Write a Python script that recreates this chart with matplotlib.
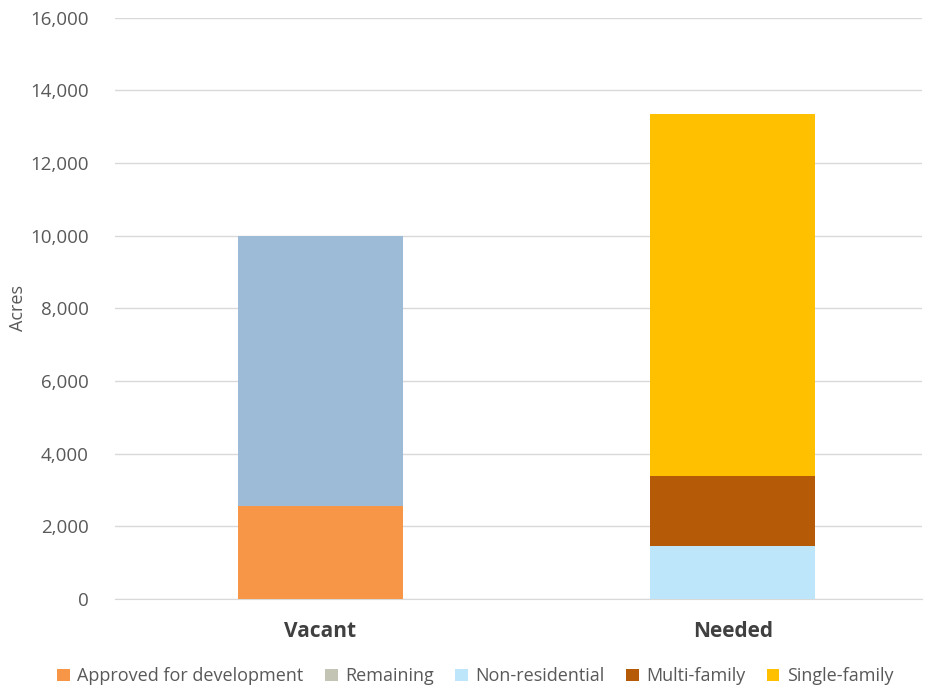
import matplotlib
matplotlib.use("Agg")
import matplotlib.pyplot as plt
from matplotlib.patches import Patch
from matplotlib.ticker import FuncFormatter

categories = ["Vacant", "Needed"]
series_names = ["Approved for development", "Remaining", "Non-residential", "Multi-family", "Single-family"]
approved = [2560, 0]
remaining = [7440, 0]
non_residential = [0, 1460]
multi_family = [0, 1930]
single_family = [0, 9970]
yticks = list(range(0, 16001, 2000))

bar_colors = ["#F79646", "#9DBAD6", "#BDE6FA", "#B55A06", "#FFC000"]
legend_colors = ["#F79646", "#C4C4B4", "#BDE6FA", "#B55A06", "#FFC000"]

plt.rcParams['font.family'] = ['Open Sans', 'DejaVu Sans']
fig = plt.figure(figsize=(9.28, 6.86), dpi=100)
ax = fig.add_axes([0.124, 0.127, 0.87, 0.847])

x = list(range(len(categories)))
bottom = [0, 0]
for vals, c in zip([approved, remaining, non_residential, multi_family, single_family], bar_colors):
    ax.bar(x, vals, bottom=bottom, width=0.4, color=c, zorder=3)
    bottom = [b + v for b, v in zip(bottom, vals)]

ax.set_ylim(0, 16000)
ax.set_xlim(-0.497, 1.46)
ax.set_yticks(yticks)
ax.yaxis.set_major_formatter(FuncFormatter(lambda v, p: f"{int(v):,}"))
ax.set_xticks(x)
ax.set_xticklabels(categories, fontsize=15, fontweight='bold', color='#404040')
ax.tick_params(axis='y', length=0, labelsize=13.5, labelcolor='#595959', pad=19)
ax.tick_params(axis='x', length=0, pad=16)
ax.grid(axis='y', color='#D9D9D9', linewidth=1, zorder=0)
for s in ['top', 'right', 'left']:
    ax.spines[s].set_visible(False)
ax.spines['bottom'].set_color('#D9D9D9')
ax.set_ylabel("Acres", fontsize=13, color='#595959', labelpad=2)

handles = [Patch(facecolor=c, label=n) for c, n in zip(legend_colors, series_names)]
fig.legend(handles=handles, loc='center', bbox_to_anchor=(0.512, 0.014), ncol=5, frameon=False,
           fontsize=13, labelcolor='#595959', handlelength=0.7, handleheight=0.7,
           handletextpad=0.4, columnspacing=1.2)

fig.savefig("out.png", dpi=100)
